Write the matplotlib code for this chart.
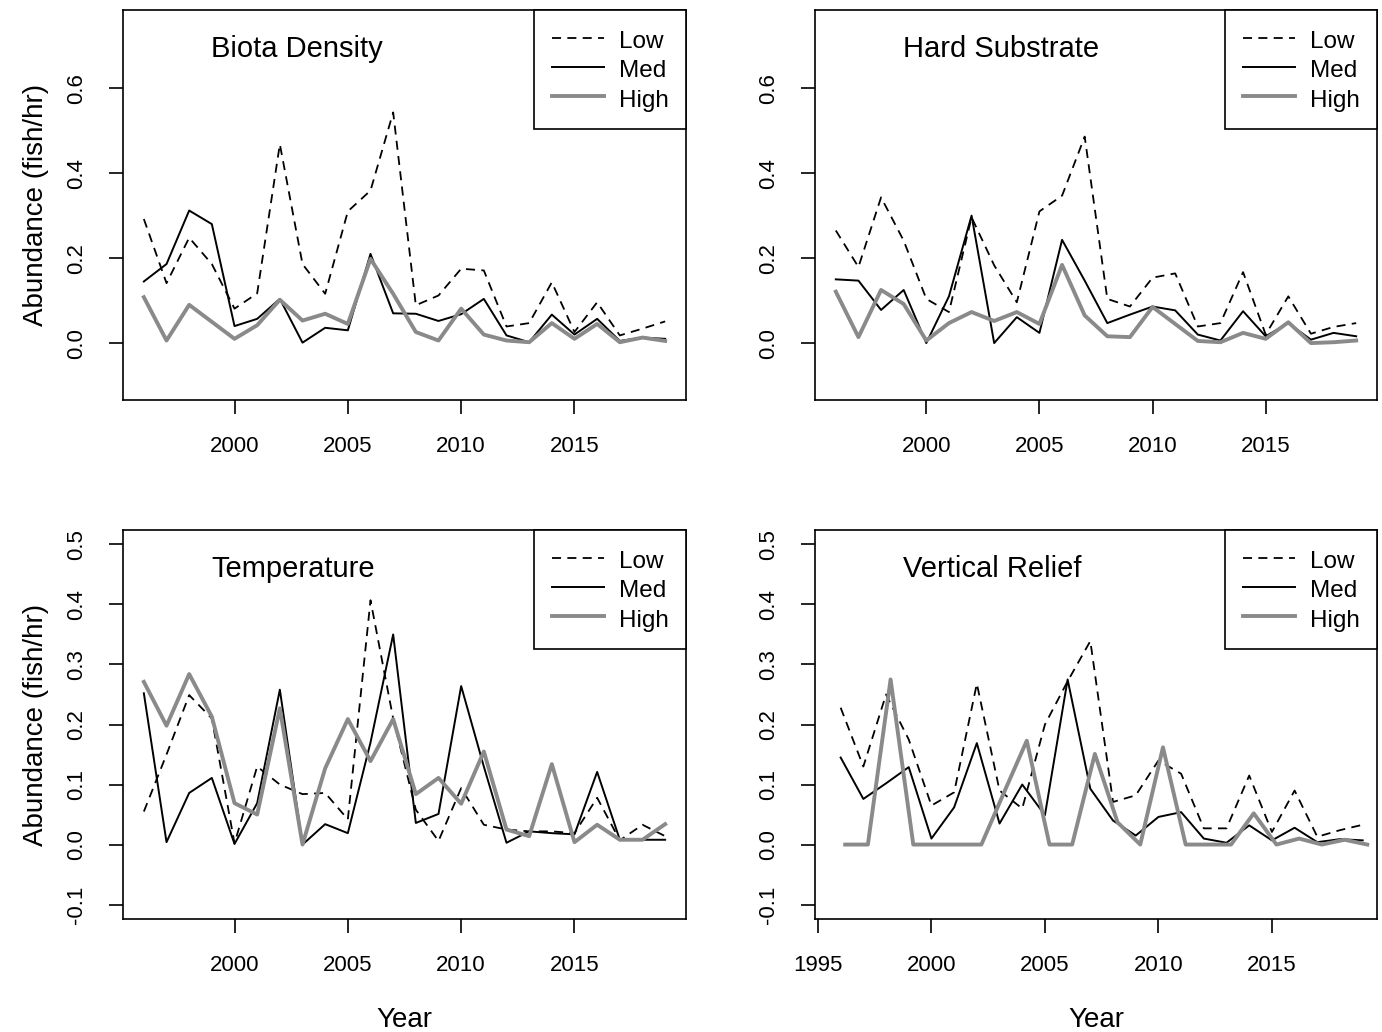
import matplotlib
matplotlib.use("Agg")
import matplotlib.pyplot as plt
from matplotlib.lines import Line2D

plt.rcParams['font.family'] = ['Liberation Sans', 'DejaVu Sans']

years = list(range(1996, 2020))

# Biota Density
bd_low = [0.292, 0.141, 0.248, 0.186, 0.081, 0.117, 0.468, 0.186, 0.116, 0.310, 0.359, 0.543,
          0.089, 0.112, 0.175, 0.171, 0.039, 0.047, 0.143, 0.026, 0.096, 0.018, 0.034, 0.051]
bd_med = [0.145, 0.186, 0.312, 0.280, 0.040, 0.057, 0.104, 0.001, 0.036, 0.030, 0.210, 0.070,
          0.069, 0.052, 0.068, 0.104, 0.018, 0.002, 0.067, 0.020, 0.057, 0.005, 0.013, 0.010]
bd_high = [0.108, 0.006, 0.090, 0.050, 0.010, 0.042, 0.102, 0.053, 0.069, 0.045, 0.198, 0.116,
           0.026, 0.006, 0.081, 0.020, 0.006, 0.002, 0.047, 0.010, 0.045, 0.002, 0.013, 0.005]

# Hard Substrate
hs_low = [0.265, 0.179, 0.343, 0.241, 0.104, 0.073, 0.296, 0.183, 0.096, 0.310, 0.347, 0.486,
          0.104, 0.086, 0.154, 0.164, 0.039, 0.047, 0.167, 0.020, 0.110, 0.022, 0.038, 0.047]
hs_med = [0.150, 0.147, 0.078, 0.125, 0.000, 0.110, 0.300, 0.000, 0.061, 0.024, 0.243, 0.147,
          0.047, 0.067, 0.086, 0.077, 0.020, 0.006, 0.075, 0.016, 0.047, 0.008, 0.024, 0.016]
hs_high = [0.121, 0.014, 0.125, 0.092, 0.006, 0.047, 0.073, 0.052, 0.073, 0.045, 0.184, 0.065,
           0.016, 0.014, 0.085, 0.045, 0.005, 0.002, 0.024, 0.010, 0.049, 0.000, 0.002, 0.006]

# Temperature
tp_low = [0.055, 0.150, 0.249, 0.210, 0.002, 0.130, 0.100, 0.084, 0.086, 0.042, 0.407, 0.210,
          0.058, 0.006, 0.094, 0.033, 0.025, 0.022, 0.022, 0.019, 0.078, 0.007, 0.033, 0.014]
tp_med = [0.252, 0.004, 0.086, 0.111, 0.001, 0.069, 0.258, 0.000, 0.034, 0.019, 0.170, 0.350,
          0.036, 0.051, 0.264, 0.130, 0.003, 0.022, 0.019, 0.017, 0.121, 0.008, 0.008, 0.008]
tp_high = [0.271, 0.198, 0.284, 0.213, 0.069, 0.050, 0.227, 0.000, 0.127, 0.209, 0.139, 0.209,
           0.084, 0.111, 0.068, 0.155, 0.025, 0.014, 0.134, 0.004, 0.033, 0.008, 0.008, 0.034]

# Vertical Relief
vr_low = [0.228, 0.130, 0.250, 0.175, 0.065, 0.087, 0.268, 0.090, 0.060, 0.200, 0.272, 0.339,
          0.071, 0.082, 0.140, 0.118, 0.027, 0.027, 0.115, 0.021, 0.090, 0.013, 0.024, 0.033]
vr_med = [0.145, 0.076, 0.102, 0.129, 0.010, 0.062, 0.169, 0.035, 0.100, 0.049, 0.275, 0.093,
          0.040, 0.015, 0.046, 0.054, 0.010, 0.003, 0.032, 0.007, 0.028, 0.004, 0.009, 0.007]
vr_high = [0.000, 0.000, 0.275, 0.000, 0.000, 0.000, 0.000, 0.087, 0.173, 0.000, 0.000, 0.151,
           0.037, 0.000, 0.162, 0.000, 0.000, 0.000, 0.052, 0.000, 0.010, 0.000, 0.008, 0.000]
vr_high_shift = 0.2

titles = ["Biota Density", "Hard Substrate", "Temperature", "Vertical Relief"]
legend_labels = ["Low", "Med", "High"]

GRAY = '#8a8a8a'

fig = plt.figure(figsize=(13.82, 10.32), dpi=100)
W, H = 1382.0, 1032.0

def box(l, r, t, b):
    return [l / W, 1 - b / H, (r - l) / W, (b - t) / H]

axes_pos = [box(123, 686, 10, 400), box(815, 1377, 10, 400),
            box(123, 686, 530, 919), box(815, 1377, 530, 919)]

panels = [
    (bd_low, bd_med, bd_high, 0.0),
    (hs_low, hs_med, hs_high, 0.0),
    (tp_low, tp_med, tp_high, 0.0),
    (vr_low, vr_med, vr_high, vr_high_shift),
]

for i, (pos, (lo, me, hi, shift), title) in enumerate(zip(axes_pos, panels, titles)):
    ax = fig.add_axes(pos)
    ax.plot(years, lo, color='black', lw=1.3, linestyle=(0, (5, 3.5)))
    ax.plot(years, me, color='black', lw=1.4)
    ax.plot([y + shift for y in years], hi, color=GRAY, lw=2.8)
    if i < 2:
        ax.set_ylim(-0.134, 0.784)
        ax.set_yticks([0.0, 0.2, 0.4, 0.6])
        ax.set_yticklabels(["0.0", "0.2", "0.4", "0.6"])
    else:
        ax.set_ylim(-0.124, 0.524)
        ax.set_yticks([-0.1, 0.0, 0.1, 0.2, 0.3, 0.4, 0.5])
        ax.set_yticklabels(["-0.1", "0.0", "0.1", "0.2", "0.3", "0.4", "0.5"])
    if i == 3:
        ax.set_xlim(1994.87, 2019.63)
        ax.set_xticks([1995, 2000, 2005, 2010, 2015])
    else:
        ax.set_xlim(1995.08, 2019.92)
        ax.set_xticks([2000, 2005, 2010, 2015])
    ax.tick_params(axis='both', labelsize=16, length=10, width=1.2, pad=16, color='black')
    for lab in ax.get_yticklabels():
        lab.set_rotation(90)
        lab.set_va('center')
    for s in ax.spines.values():
        s.set_linewidth(1.2)
    ax.text(0.157, 0.9, title, transform=ax.transAxes, fontsize=21,
            ha='left', va='center')
    handles = [Line2D([], [], color='black', lw=1.3, linestyle=(0, (5, 3.5))),
               Line2D([], [], color='black', lw=1.4),
               Line2D([], [], color=GRAY, lw=2.8)]
    leg = ax.legend(handles, legend_labels, loc='upper right', fontsize=17.5,
                    frameon=True, fancybox=False, borderaxespad=0, borderpad=0.72,
                    labelspacing=0.15, handleheight=1.2, handlelength=2.15,
                    handletextpad=0.6)
    leg.get_frame().set_edgecolor('black')
    leg.get_frame().set_linewidth(1.2)
    leg.get_frame().set_alpha(1)
    if i in (0, 2):
        ax.set_ylabel("Abundance (fish/hr)", fontsize=20, labelpad=12)
    if i in (2, 3):
        ax.set_xlabel("Year", fontsize=20, labelpad=22)

fig.savefig("out.png", dpi=100)
